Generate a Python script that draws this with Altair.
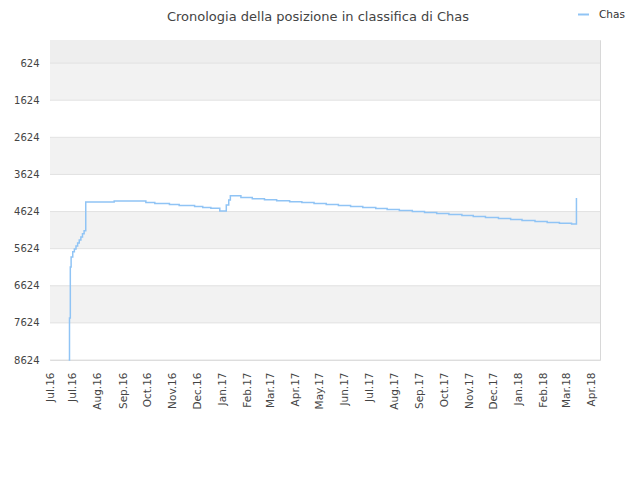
import altair as alt
import pandas as pd

# ---- data ----
dates = [
    "2016-06-26", "2016-06-27", "2016-06-28", "2016-06-29", "2016-07-01",
    "2016-07-03", "2016-07-05", "2016-07-07", "2016-07-09", "2016-07-11",
    "2016-07-13", "2016-07-15", "2016-07-17",
    "2016-08-21", "2016-09-29", "2016-10-10", "2016-10-28", "2016-11-09",
    "2016-11-28", "2016-12-08", "2016-12-18", "2016-12-29", "2017-01-06",
    "2017-01-09", "2017-01-11", "2017-01-24", "2017-02-07", "2017-02-22",
    "2017-03-09", "2017-03-25", "2017-04-09", "2017-04-24", "2017-05-09",
    "2017-05-24", "2017-06-08", "2017-06-23", "2017-07-09", "2017-07-23",
    "2017-08-07", "2017-08-23", "2017-09-07", "2017-09-22", "2017-10-07",
    "2017-10-23", "2017-11-06", "2017-11-21", "2017-12-07", "2017-12-22",
    "2018-01-05", "2018-01-21", "2018-02-05", "2018-02-20", "2018-03-07",
    "2018-03-13",
]
ranks = [
    8624, 7493, 6120, 5850, 5708,
    5630, 5550, 5470, 5390, 5310,
    5225, 5142, 4369,
    4342, 4377, 4404, 4431, 4458,
    4485, 4512, 4538, 4606, 4450,
    4315, 4199, 4242, 4280, 4307,
    4334, 4361, 4382, 4409, 4436,
    4463, 4490, 4517, 4544, 4571,
    4598, 4625, 4652, 4679, 4705,
    4732, 4759, 4786, 4813, 4840,
    4867, 4894, 4921, 4942, 4961,
    4261,
]
series_name = "Chas"
title_text = "Cronologia della posizione in classifica di Chas"

x_domain = ["2016-06-03", "2018-04-11"]
tick_dates = [
    "2016-06-03", "2016-07-01", "2016-08-01", "2016-09-01", "2016-10-01",
    "2016-11-01", "2016-12-01", "2017-01-01", "2017-02-01", "2017-03-01",
    "2017-04-01", "2017-05-01", "2017-06-01", "2017-07-01", "2017-08-01",
    "2017-09-01", "2017-10-01", "2017-11-01", "2017-12-01", "2018-01-01",
    "2018-02-01", "2018-03-01", "2018-04-01",
]
tick_labels = [
    "Jul.16", "Jul.16", "Aug.16", "Sep.16", "Oct.16",
    "Nov.16", "Dec.16", "Jan.17", "Feb.17", "Mar.17",
    "Apr.17", "May.17", "Jun.17", "Jul.17", "Aug.17",
    "Sep.17", "Oct.17", "Nov.17", "Dec.17", "Jan.18",
    "Feb.18", "Mar.18", "Apr.18",
]
y_domain = [1, 8624]
y_ticks = [624, 1624, 2624, 3624, 4624, 5624, 6624, 7624, 8624]
band_start = [1, 624, 1624, 2624, 3624, 4624, 5624, 6624, 7624]
band_end = [624, 1624, 2624, 3624, 4624, 5624, 6624, 7624, 8624]
band_fill = ["#eeeeee", "#f2f2f2", "#ffffff", "#f2f2f2", "#ffffff",
             "#f2f2f2", "#ffffff", "#f2f2f2", "#ffffff"]

line_color = "#90c4f5"
FONT = "DejaVu Sans"

# ---- tables ----
def ms(s):
    return int(pd.Timestamp(s, tz="UTC").value // 10**6)

line_df = pd.DataFrame({"date": dates, "rank": ranks, "series": series_name})
band_df = pd.DataFrame({"b0": band_start, "b1": band_end, "fill": band_fill})
grid_df = pd.DataFrame({"g": y_ticks})
title_df = pd.DataFrame({"t": [title_text]})

tick_ms = [ms(d) for d in tick_dates]
label_expr = (
    "[" + ",".join("'" + t + "'" for t in tick_labels) + "]"
    + "[indexof([" + ",".join(str(v) for v in tick_ms) + "], time(datum.value))]"
)

y_scale = alt.Scale(domain=y_domain, reverse=True, nice=False, zero=False)


def y_axis():
    return alt.Axis(
        title=None, values=y_ticks, format="d", ticks=False, tickSize=0,
        labelPadding=11, domain=False, grid=False, labelFont=FONT,
        labelFontSize=10, labelColor="#444", labelOverlap=False,
        labelFlush=False, labelBound=False,
    )


bands = alt.Chart(band_df).mark_rect().encode(
    y=alt.Y("b0:Q", scale=y_scale, axis=y_axis()),
    y2="b1:Q",
    fill=alt.Fill("fill:N", scale=None),
)

grid = alt.Chart(grid_df).mark_rule(color="#e2e2e2", strokeWidth=1).encode(
    y=alt.Y("g:Q", scale=y_scale, axis=y_axis()),
)

line = alt.Chart(line_df).mark_line(interpolate="step-after", strokeWidth=1.5).encode(
    x=alt.X(
        "date:T",
        scale=alt.Scale(type="utc", domain=[ms(d) for d in x_domain], nice=False),
        axis=alt.Axis(
            title=None, values=tick_ms, labelExpr=label_expr, labelAngle=-90,
            labelAlign="right", labelBaseline="middle", ticks=False, tickSize=0,
            labelPadding=12, domain=False, grid=False, labelFont=FONT,
            labelFontSize=10.5, labelColor="#444", labelOverlap=False,
            labelBound=False, labelFlush=False,
        ),
    ),
    y=alt.Y("rank:Q", scale=y_scale, axis=y_axis()),
    color=alt.Color(
        "series:N",
        scale=alt.Scale(domain=[series_name], range=[line_color]),
        legend=alt.Legend(
            title=None, orient="none", legendX=527, legendY=-32,
            symbolType="stroke", symbolSize=121, symbolStrokeWidth=2,
            labelFont=FONT, labelFontSize=10.5, labelColor="#333",
            labelOffset=9, padding=0,
        ),
    ),
)

title = alt.Chart(title_df).mark_text(
    font=FONT, fontSize=13, color="#444", align="center", baseline="alphabetic",
).encode(
    text="t:N",
    x=alt.value(268),
    y=alt.value(-19),
)

chart = alt.layer(bands, grid, line, title).properties(
    width=550,
    height=320,
    autosize=alt.AutoSizeParams(type="none"),
    padding={"left": 42, "top": 32, "right": 32, "bottom": 112},
).configure_view(stroke="#d8d8d8")

chart.save("out.html", embed_options={"renderer": "svg", "actions": False})
